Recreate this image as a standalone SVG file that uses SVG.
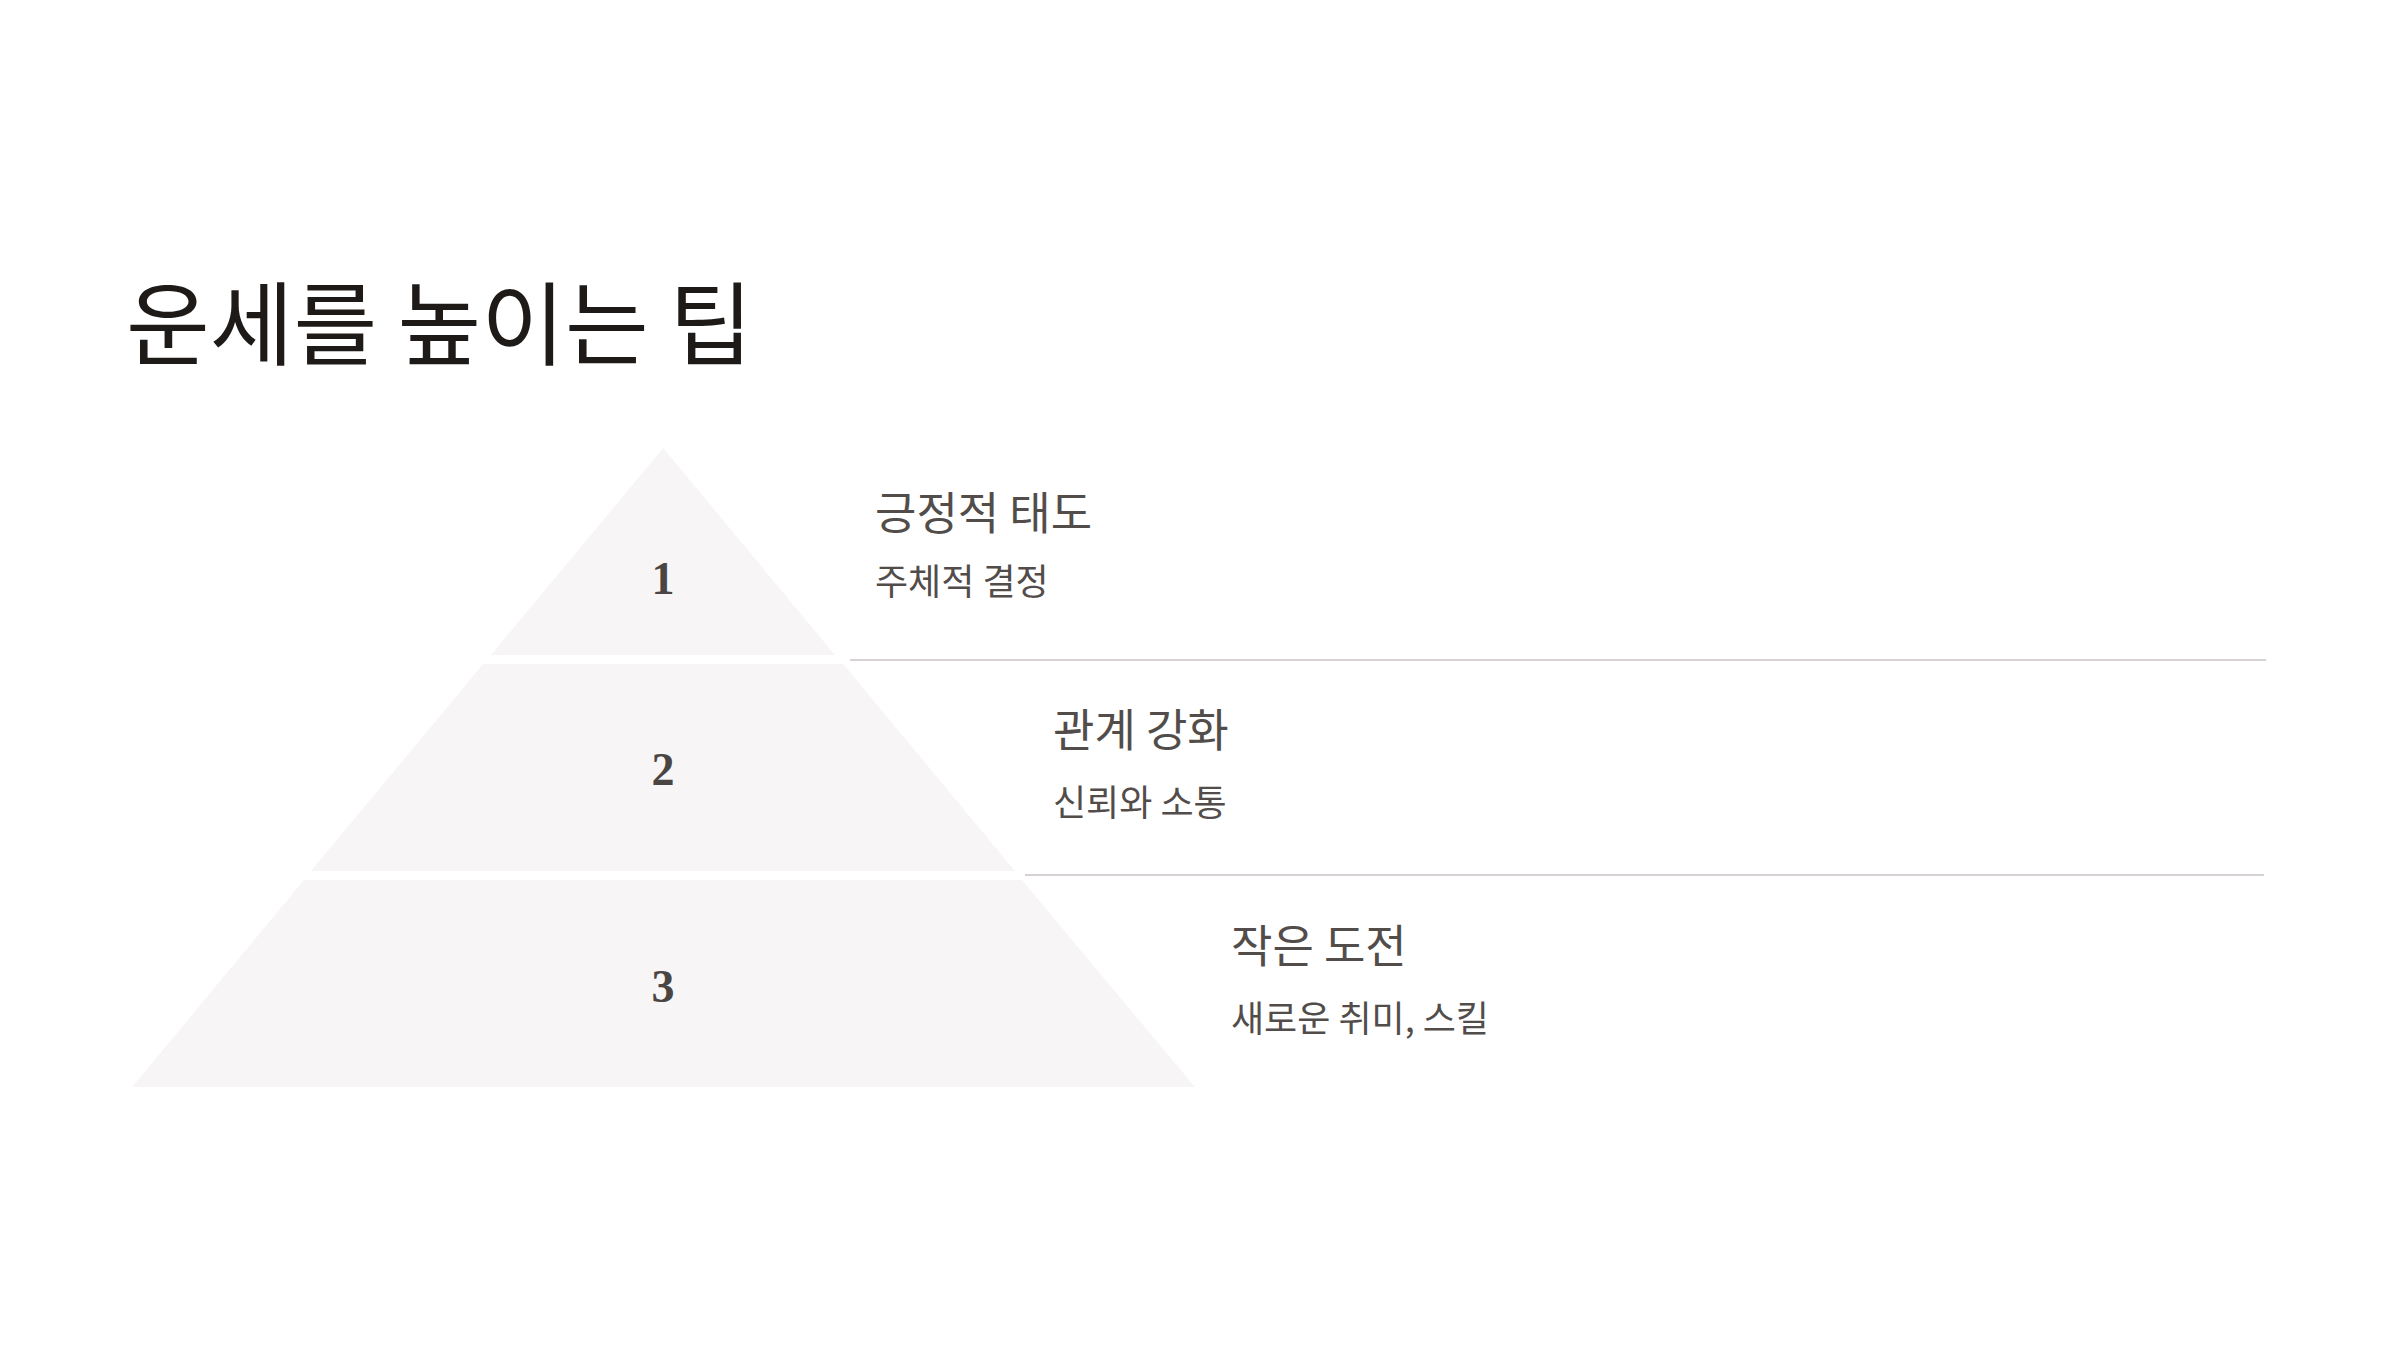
<svg xmlns="http://www.w3.org/2000/svg" width="2400" height="1350" viewBox="0 0 2400 1350">
<style>
.tier{fill:#f7f5f5;}
.num{font-family:"Liberation Serif","DejaVu Serif",serif;font-size:46px;font-weight:bold;fill:#4a4543;text-anchor:middle;}
.head{font-family:"Noto Sans CJK KR",sans-serif;font-size:45px;fill:#524d4a;}
.sub{font-family:"Noto Sans CJK KR",sans-serif;font-size:36px;fill:#524d4a;}
.title{font-family:"Noto Sans CJK KR",sans-serif;font-size:91px;fill:#1e1a18;}
.sep{stroke:#d6d2d2;stroke-width:2;fill:none;}
</style>
<rect width="2400" height="1350" fill="#ffffff"/>
<text class="title" x="126" y="358">운세를 높이는 팁</text>
<g id="connectors">
<line class="sep" x1="850" y1="660" x2="2266" y2="660"/>
<line class="sep" x1="1025" y1="875" x2="2264" y2="875"/>
</g>
<g id="tier1">
<polygon class="tier" points="663,448 835,655 491,655"/>
<text class="num" x="663" y="594">1</text>
<text class="head" x="875" y="530">긍정적 태도</text>
<text class="sub" x="875" y="595">주체적 결정</text>
</g>
<g id="tier2">
<polygon class="tier" points="483,664 843,664 1015,871 311,871"/>
<text class="num" x="663" y="785">2</text>
<text class="head" x="1053" y="747">관계 강화</text>
<text class="sub" x="1053" y="816">신뢰와 소통</text>
</g>
<g id="tier3">
<polygon class="tier" points="304,880 1022,880 1195,1087 132,1087"/>
<text class="num" x="663" y="1002">3</text>
<text class="head" x="1231" y="963">작은 도전</text>
<text class="sub" x="1231" y="1032">새로운 취미, 스킬</text>
</g>
</svg>
